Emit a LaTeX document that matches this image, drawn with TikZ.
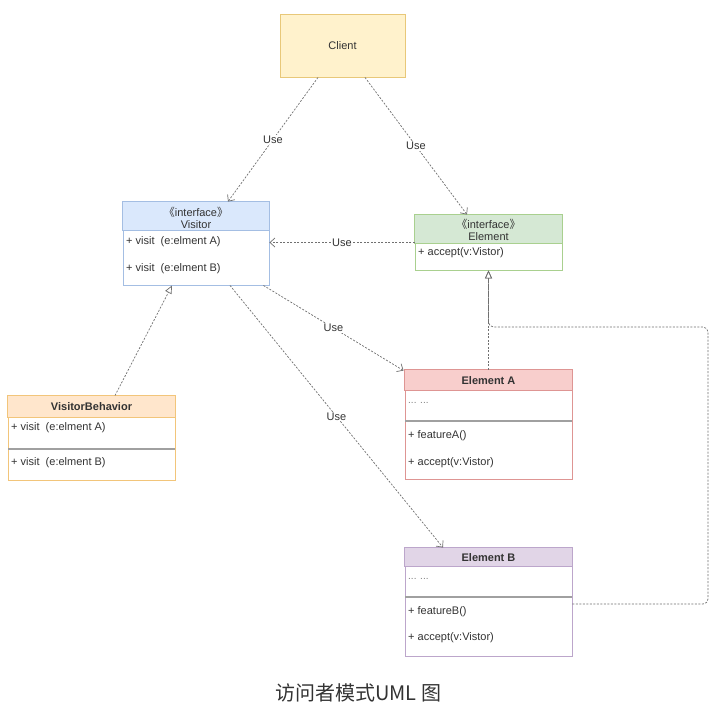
\documentclass[tikz,border=0pt]{standalone}
\usepackage{fontspec}
\setmainfont{Liberation Sans}
\newfontfamily\cjkfont{Noto Sans CJK SC}
\usetikzlibrary{arrows.meta}

\definecolor{ink}{HTML}{333333}
\definecolor{wire}{HTML}{707070}
\definecolor{sepgray}{HTML}{A0A0A0}
\definecolor{dotgray}{HTML}{808080}
\definecolor{yellowfill}{HTML}{FFF2CC}
\definecolor{yellowline}{HTML}{E8C879}
\definecolor{bluefill}{HTML}{DAE8FC}
\definecolor{blueline}{HTML}{A4BEE3}
\definecolor{greenfill}{HTML}{D5E8D4}
\definecolor{greenline}{HTML}{A9D08F}
\definecolor{orangefill}{HTML}{FFE6CC}
\definecolor{orangeline}{HTML}{F2C57A}
\definecolor{redfill}{HTML}{F8CECC}
\definecolor{redline}{HTML}{DE9593}
\definecolor{purplefill}{HTML}{E1D5E7}
\definecolor{purpleline}{HTML}{BCA6CB}

\newcommand{\lguil}{{\cjkfont 《}}
\newcommand{\rguil}{{\cjkfont 》}}

\tikzset{
  every node/.style={font=\fontsize{11}{13}\selectfont, text=ink},
  classbox/.style={rectangle, draw, line width=0.9pt, inner sep=0pt},
  member/.style={anchor=west, inner sep=0pt},
  title/.style={inner sep=0pt},
  bold/.style={inner sep=0pt, font=\fontsize{11}{13}\selectfont\bfseries},
  dots/.style={anchor=west, inner sep=0pt, text=dotgray},
  sepline/.style={draw=sepgray, line width=1.4pt},
  uses/.style={draw=wire, line width=0.7pt, dash pattern=on 2pt off 1.5pt,
    -{Straight Barb[length=5pt,width=9pt]}},
  realize/.style={draw=wire, line width=0.7pt, dash pattern=on 2pt off 1.5pt,
    -{Triangle[open,length=8pt,width=7pt]}},
  lbl/.style={fill=white, inner sep=1pt}
}

\begin{document}
\begin{tikzpicture}[x=1pt,y=-1pt]
\useasboundingbox[fill=white] (0,0) rectangle (720,716);

% Client
\node[classbox, draw=yellowline, fill=yellowfill, minimum width=125pt, minimum height=63pt]
  (client) at (342.5,45.5) {Client};

% Visitor interface
\node[classbox, draw=blueline, fill=white, minimum width=146pt, minimum height=83pt]
  (visitor) at (196,243.5) {};
\path[fill=bluefill, draw=blueline, line width=0.9pt]
  (visitor.north west) rectangle ([yshift=-29pt]visitor.north east);
\node[title] (visitorstereo) at (196,212) {\lguil interface\rguil};
\node[title] (visitorname) at (196,225) {Visitor};
\node[member] (visitorm1) at (126,242) {+ visit\ \ (e:elment A)};
\node[member] (visitorm2) at (126,269) {+ visit\ \ (e:elment B)};

% Element interface
\node[classbox, draw=greenline, fill=white, minimum width=147pt, minimum height=55pt]
  (element) at (488.5,242.5) {};
\path[fill=greenfill, draw=greenline, line width=0.9pt]
  (element.north west) rectangle ([yshift=-29pt]element.north east);
\node[title] (elementstereo) at (488.5,224) {\lguil interface\rguil};
\node[title] (elementname) at (488.5,237) {Element};
\node[member] (elementm1) at (418,253) {+ accept(v:Vistor)};

% VisitorBehavior
\node[classbox, draw=orangeline, fill=white, minimum width=167pt, minimum height=84pt]
  (behavior) at (91.5,438) {};
\path[fill=orangefill, draw=orangeline, line width=0.9pt]
  (behavior.north west) rectangle ([yshift=-22pt]behavior.north east);
\node[bold] (behaviorname) at (91.5,407) {VisitorBehavior};
\node[member] (behaviorm1) at (11,428) {+ visit\ \ (e:elment A)};
\path[sepline] ([xshift=0.5pt]behavior.west |- 0,449) -- ([xshift=-0.5pt]behavior.east |- 0,449);
\node[member] (behaviorm2) at (11,463) {+ visit\ \ (e:elment B)};

% Element A
\node[classbox, draw=redline, fill=white, minimum width=167pt, minimum height=109pt]
  (elema) at (488.5,424.5) {};
\path[fill=redfill, draw=redline, line width=0.9pt]
  (elema.north west) rectangle ([yshift=-21pt]elema.north east);
\node[bold] (elemaname) at (488.5,380.5) {Element A};
\node[dots] (elemadots) at (408,403) {\fontsize{10}{12}\selectfont ... ...};
\path[sepline] ([xshift=0.5pt]elema.west |- 0,421) -- ([xshift=-0.5pt]elema.east |- 0,421);
\node[member] (elemam1) at (408,436) {+ featureA()};
\node[member] (elemam2) at (408,463) {+ accept(v:Vistor)};

% Element B
\node[classbox, draw=purpleline, fill=white, minimum width=167pt, minimum height=108pt]
  (elemb) at (488.5,602) {};
\path[fill=purplefill, draw=purpleline, line width=0.9pt]
  (elemb.north west) rectangle ([yshift=-19pt]elemb.north east);
\node[bold] (elembname) at (488.5,558) {Element B};
\node[dots] (elembdots) at (408,579) {\fontsize{10}{12}\selectfont ... ...};
\path[sepline] ([xshift=0.5pt]elemb.west |- 0,597) -- ([xshift=-0.5pt]elemb.east |- 0,597);
\node[member] (elembm1) at (408,612) {+ featureB()};
\node[member] (elembm2) at (408,638) {+ accept(v:Vistor)};

% Dependencies
\path[uses] ([xshift=-24.5pt]client.south) -- node[lbl] {Use} ([xshift=32pt]visitor.north);
\path[uses] ([xshift=22.5pt]client.south) -- node[lbl] {Use} ([xshift=-21.5pt]element.north);
\path[uses] (element.west) -- node[lbl] {Use} (visitor.east |- element.west);
\path[uses] ([xshift=-6pt]visitor.south east) -- node[lbl] {Use} ([xshift=-1pt,yshift=-1pt]elema.north west);
\path[uses] ([xshift=34pt]visitor.south) -- node[lbl] {Use} ([xshift=-45.5pt]elemb.north);

% Realizations
\path[realize] ([xshift=23.5pt]behavior.north) -- ([xshift=-24pt]visitor.south);
\path[realize] (elema.north) -- (element.south);
\coordinate (loopcorner) at (708,327);
\path[realize, rounded corners=5pt] ([yshift=-2pt]elemb.east) -| (loopcorner) -| (element.south);

% Caption
\node[inner sep=0pt, text=ink] (caption) at (358,693)
  {\cjkfont\fontsize{20}{24}\selectfont 访问者模式UML 图};
\end{tikzpicture}
\end{document}
